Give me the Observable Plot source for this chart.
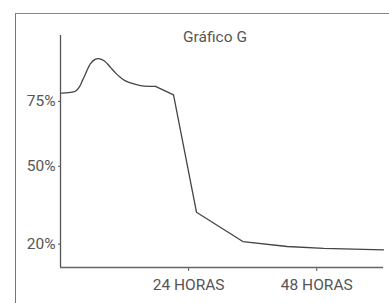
<!DOCTYPE html>
<html>
<head>
<meta charset="utf-8">
<script src="https://cdn.jsdelivr.net/npm/d3@7"></script>
<script src="https://cdn.jsdelivr.net/npm/@observablehq/plot@0.6"></script>
<style>
  html, body { margin: 0; padding: 0; background: #fff; }
  #wrap { position: relative; width: 389px; height: 303px; overflow: hidden; }
  #frame { position: absolute; left: 15px; top: 13px; width: 420px; height: 320px;
           border-left: 1.5px solid #777; border-top: 1.5px solid #888; box-sizing: border-box; }
  #chart { position: absolute; left: 0; top: 0; }
</style>
</head>
<body>
<div id="wrap"><div id="frame"></div><div id="chart"></div></div>
<script>
const title = "Gráfico G";
// Hours since start
const hoursSmooth = [0.19, 1.5, 2.81, 3.56, 4.12, 4.68, 5.62, 6.56, 7.12, 8.24, 9.37, 10.3, 11.24, 12.17, 13.1, 14.98, 16.86, 17.79];
const valuesSmooth = [78.2, 78.4, 78.9, 80.7, 83.1, 85.6, 89.6, 91.3, 91.5, 90.6, 88.1, 86.0, 84.2, 82.9, 82.1, 81.1, 80.8, 80.8];
const hoursLinear = [17.79, 21.17, 25.47, 34.15, 42.46, 49.3, 60.5];
const valuesLinear = [80.8, 77.5, 32.3, 21.0, 19.1, 18.4, 17.8];
const yTicks = [20, 50, 75];
const xTicks = [24, 48];
const xTickLabel = "HORAS";

const smooth = hoursSmooth.map((h, i) => ({h, v: valuesSmooth[i]}));
const linear = hoursLinear.map((h, i) => ({h, v: valuesLinear[i]}));

const textColor = "#555";
const plot = Plot.plot({
  width: 389,
  height: 303,
  marginLeft: 60,
  marginRight: 6,
  marginTop: 35,
  marginBottom: 36,
  style: {fontFamily: "Roboto", fontSize: "15.5px", color: textColor, background: "transparent"},
  x: {domain: [0, 60.5], ticks: xTicks, tickFormat: d => `${d} ${xTickLabel}`, tickSize: 4, tickPadding: 7, label: null},
  y: {domain: [11, 100.4], ticks: yTicks, tickFormat: d => `${d}%`, tickSize: 2, tickPadding: 3, label: null},
  marks: [
    Plot.ruleX([0], {stroke: "#555", strokeWidth: 1.3}),
    Plot.ruleY([11], {stroke: "#666", strokeWidth: 1.6}),
    Plot.line(smooth, {x: "h", y: "v", curve: "catmull-rom", stroke: "#444", strokeWidth: 1.3}),
    Plot.line(linear, {x: "h", y: "v", stroke: "#444", strokeWidth: 1.3}),
    Plot.text([title], {frameAnchor: "top", lineAnchor: "bottom", dx: -7, dy: 6, fill: textColor, fontSize: 15.5})
  ]
});
document.getElementById("chart").appendChild(plot);
</script>
</body>
</html>
